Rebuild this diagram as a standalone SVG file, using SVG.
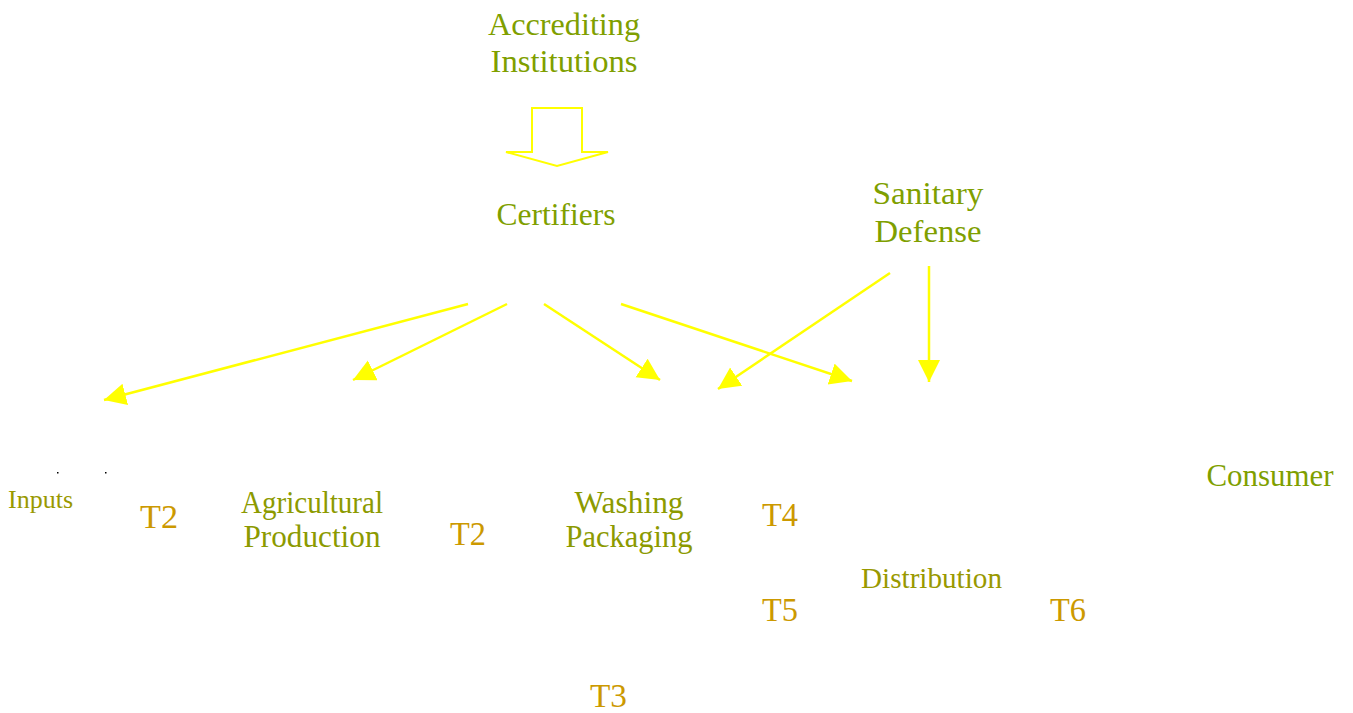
<svg xmlns="http://www.w3.org/2000/svg" width="1353" height="713" viewBox="0 0 1353 713">
<style>
text{font-family:"Liberation Serif","Times New Roman",serif;}
.g{fill:#7f9f00;font-size:32px;text-anchor:middle;}
.o{fill:#8c9a00;font-size:31px;text-anchor:middle;}
.s{fill:#999900;}
.t{fill:#cc9900;font-size:33px;}
.c{stroke:#ffff00;stroke-width:2.5;fill:none;marker-end:url(#ah);}
</style>
<defs>
<marker id="ah" markerUnits="userSpaceOnUse" markerWidth="24" markerHeight="24" refX="22" refY="11" orient="auto" viewBox="0 0 24 24">
<path d="M0,0 L22,11 L0,22 Z" fill="#ffff00"/>
</marker>
</defs>
<rect width="1353" height="713" fill="#ffffff"/>
<g id="accrediting">
<text class="g" x="564" y="35" textLength="152" lengthAdjust="spacingAndGlyphs">Accrediting</text>
<text class="g" x="564" y="72" textLength="147" lengthAdjust="spacingAndGlyphs">Institutions</text>
</g>
<g id="certifiers"><text class="g" x="556" y="225" textLength="119" lengthAdjust="spacingAndGlyphs">Certifiers</text></g>
<g id="sanitary">
<text class="g" x="928" y="204" textLength="111" lengthAdjust="spacingAndGlyphs">Sanitary</text>
<text class="g" x="928" y="242" textLength="107" lengthAdjust="spacingAndGlyphs">Defense</text>
</g>
<g id="consumer"><text class="g" x="1270" y="486" textLength="127" lengthAdjust="spacingAndGlyphs">Consumer</text></g>
<g id="inputs">
<rect x="57" y="472" width="1.5" height="1.5" fill="#000"/>
<rect x="105" y="472" width="1.5" height="1.5" fill="#000"/>
<text class="s" x="8" y="508" font-size="26" textLength="65" lengthAdjust="spacingAndGlyphs">Inputs</text>
</g>
<g id="agricultural">
<text class="o" x="312" y="513" textLength="142" lengthAdjust="spacingAndGlyphs">Agricultural</text>
<text class="o" x="312" y="547" textLength="137" lengthAdjust="spacingAndGlyphs">Production</text>
</g>
<g id="washing">
<text class="o" x="629" y="513" textLength="109" lengthAdjust="spacingAndGlyphs">Washing</text>
<text class="o" x="629" y="547" textLength="127" lengthAdjust="spacingAndGlyphs">Packaging</text>
</g>
<g id="distribution"><text class="s" x="861" y="588" font-size="29" textLength="141" lengthAdjust="spacingAndGlyphs">Distribution</text></g>
<g id="labels">
<text class="t" x="140" y="528" textLength="38" lengthAdjust="spacingAndGlyphs">T2</text>
<text class="t" x="450" y="545" textLength="36" lengthAdjust="spacingAndGlyphs">T2</text>
<text class="t" x="762" y="526" textLength="36" lengthAdjust="spacingAndGlyphs">T4</text>
<text class="t" x="762" y="621" textLength="36" lengthAdjust="spacingAndGlyphs">T5</text>
<text class="t" x="1050" y="621" textLength="36" lengthAdjust="spacingAndGlyphs">T6</text>
<text class="t" x="590" y="707" textLength="37" lengthAdjust="spacingAndGlyphs">T3</text>
</g>
<g id="connectors">
<polygon points="532,108 582,108 582,152 608,152 557,166 506,152 532,152" fill="none" stroke="#ffff00" stroke-width="2"/>
<line class="c" x1="468" y1="304" x2="104" y2="400"/>
<line class="c" x1="507" y1="304" x2="353" y2="380"/>
<line class="c" x1="544" y1="304" x2="660" y2="380"/>
<line class="c" x1="621" y1="304" x2="852" y2="381"/>
<line class="c" x1="890" y1="273" x2="718" y2="389"/>
<line class="c" x1="929" y1="266" x2="929" y2="382"/>
</g>
</svg>
